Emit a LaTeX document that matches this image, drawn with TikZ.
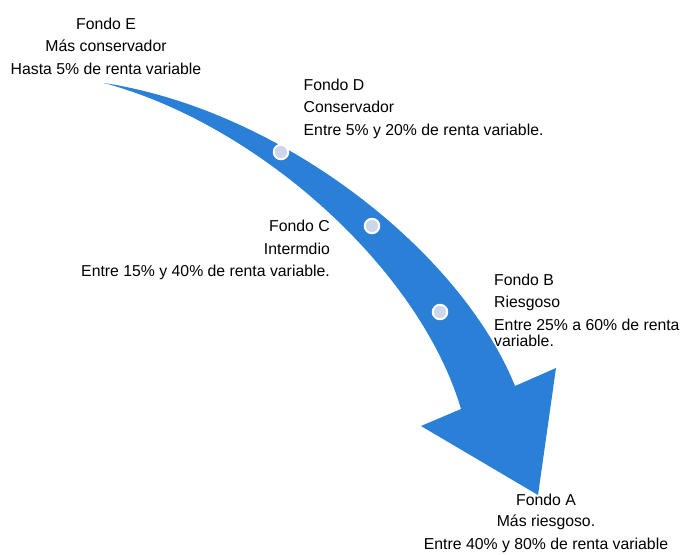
\documentclass[tikz,border=0pt]{standalone}
\usepackage{fontspec}
\setmainfont{Liberation Sans}
\definecolor{arrowblue}{RGB}{42,127,214}
\definecolor{dotfill}{RGB}{206,214,238}
\tikzset{
  lbl/.style={inner sep=0pt, font=\fontsize{15.8}{19}\selectfont, text=black},
  dot/.style={circle, fill=dotfill, draw=white, line width=2pt, minimum size=14.5pt, inner sep=0pt}
}
\begin{document}
\begin{tikzpicture}[x=1pt,y=-1pt]
\useasboundingbox (0,0) rectangle (684,554);
% arrow body
\coordinate (tail) at (104,83);
\coordinate (ri) at (515,386);
\coordinate (li) at (461,409);
\coordinate (rb) at (556,368);
\coordinate (lb) at (421,426);
\coordinate (tip) at (538,495);
\fill[arrowblue] (tail) .. controls (280,110) and (460,250) .. (ri)
  -- (rb) -- (tip) -- (lb) -- (li)
  .. controls (420,270) and (260,125) .. (tail) -- cycle;
% dots
\node[dot] (d1) at (281,152) {};
\node[dot] (d2) at (372,226) {};
\node[dot] (d3) at (440,312) {};
% Fondo E
\node[lbl, anchor=base] (e1) at (106,29.3) {Fondo E};
\node[lbl, anchor=base] (e2) at (106,51.7) {Más conservador};
\node[lbl, anchor=base] (e3) at (106,74) {Hasta 5\% de renta variable};
% Fondo D
\node[lbl, anchor=base west] (dd1) at (303.5,90) {Fondo D};
\node[lbl, anchor=base west] (dd2) at (303.5,112.3) {Conservador};
\node[lbl, anchor=base west] (dd3) at (303.5,135) {Entre 5\% y 20\% de renta variable.};
% Fondo C
\node[lbl, anchor=base east] (c1) at (330,231.7) {Fondo C};
\node[lbl, anchor=base east] (c2) at (330,254.3) {Intermdio};
\node[lbl, anchor=base east] (c3) at (330,276) {Entre 15\% y 40\% de renta variable.};
% Fondo B
\node[lbl, anchor=base west] (b1) at (494,285) {Fondo B};
\node[lbl, anchor=base west] (b2) at (494,307.7) {Riesgoso};
\node[lbl, anchor=base west] (b3) at (494,330.3) {Entre 25\% a 60\% de renta};
\node[lbl, anchor=base west] (b4) at (494,346.7) {variable.};
% Fondo A
\node[lbl, anchor=base] (a1) at (546,505) {Fondo A};
\node[lbl, anchor=base] (a2) at (546,526.7) {Más riesgoso.};
\node[lbl, anchor=base] (a3) at (546,549.3) {Entre 40\% y 80\% de renta variable};
\end{tikzpicture}
\end{document}
